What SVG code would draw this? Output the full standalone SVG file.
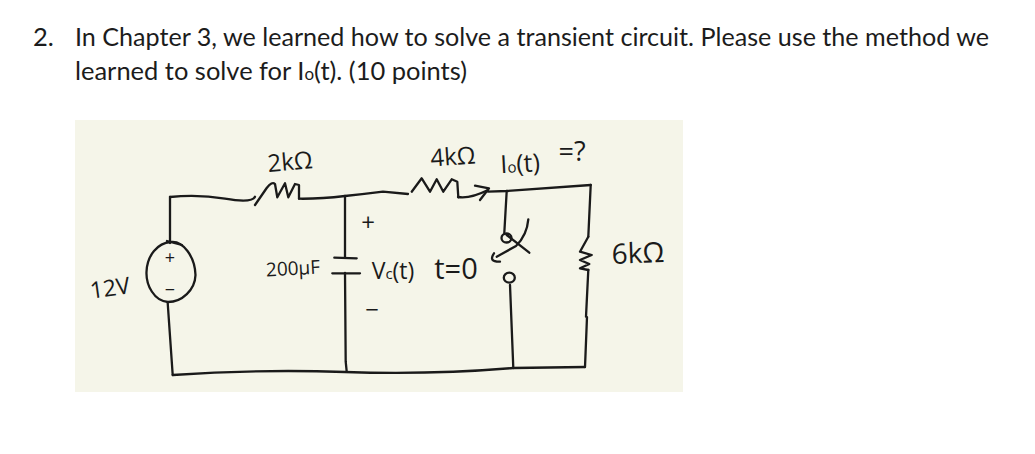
<svg xmlns="http://www.w3.org/2000/svg" width="1035" height="454" viewBox="0 0 1035 454">
<style>
.q{font-family:Lato,"Liberation Sans",sans-serif;font-size:25.5px;fill:#1c1c1c}
.w{fill:none;stroke:#1a1a1a;stroke-width:2.300;stroke-linecap:round;stroke-linejoin:round}
.h{font-family:"Open Sans","Liberation Sans",sans-serif;fill:#1a1a1a;text-anchor:middle;font-weight:400}
</style>
<rect width="1035" height="454" fill="#ffffff"/>
<text class="q" x="33" y="46">2.</text>
<text class="q" x="75" y="46" textLength="914" lengthAdjust="spacingAndGlyphs">In Chapter 3, we learned how to solve a transient circuit. Please use the method we</text>
<text class="q" x="75" y="80" textLength="392" lengthAdjust="spacingAndGlyphs">learned to solve for I<tspan font-size="17">o</tspan>(t). (10 points)</text>
<rect id="paper" x="75" y="120" width="608" height="272" fill="#f5f5e9"/>
<g id="connectors" class="w">
<path d="M170 197 Q198 194 225 198.700 T255 196.700"/>
<path d="M299 198.700 Q320 199 345 196"/>
<path d="M170 197 L170 243"/>
<path d="M167.700 303 L172.700 375"/>
<path d="M172.700 375 Q260 369 345 372 Q430 375 513 368 L585 367"/>
<path d="M345 196 Q365 194 383 191.700 L408 194"/>
<path d="M458 197 Q470 199 488 190"/>
<path d="M475 185.700 L489 188.300 L480 200"/>
<path d="M488 191.700 L506.700 191 L590.700 185"/>
<path d="M506.700 191 L504.300 233"/>
<path d="M510 285 L513.300 368"/>
<path d="M345 196.700 L345 257.700"/>
<path d="M345 273 L345.700 361.700 L346.700 371.700"/>
<path d="M590.700 185 L588.300 236.700"/>
<path d="M588.300 270 L586 316.700 L587 317 L585 367"/>
</g>
<g id="source">
<path class="w" d="M170.500 242 C183 240 195 257 195.500 275 C195 290 182 302 168 302 C154 301 146 285 146.500 272 C147 255 158 243 170.500 242 Z"/>
<path class="w" d="M167 241 Q174 243 182 245"/>
<text class="h" x="170" y="264" font-size="18">+</text>
<text class="h" x="170" y="296" font-size="18">−</text>
<text class="h" x="110" y="296" font-size="23" transform="rotate(-8 110 288)">12V</text>
</g>
<g id="r2k">
<path class="w" d="M255 205 L266.700 188 Q272 181 275 184 L277.300 197.300 L285 183.300 L288.300 197.300 L295 184 L299 185 L299 198.700"/>
<text class="h" x="290" y="170" font-size="24" transform="rotate(-5 290 161)">2kΩ</text>
</g>
<g id="r4k">
<path class="w" d="M411.700 191.700 L421.700 178.300 L430 191.700 L436.700 179.300 L443.300 191.700 L451.700 179.300 L457.300 181.700 L458.300 197.300"/>
<text class="h" x="453" y="165" font-size="24" transform="rotate(-4 453 157)">4kΩ</text>
</g>
<g id="capacitor">
<path class="w" d="M334.300 257.700 L356.700 258.300 M332.300 273.300 L360 273.300"/>
<text class="h" x="293" y="275" font-size="19" transform="rotate(-3 293 268)">200μF</text>
<text class="h" x="368" y="231" font-size="24">+</text>
<text class="h" x="393" y="279" font-size="23">V<tspan font-size="15">c</tspan>(t)</text>
<text class="h" x="372" y="318" font-size="24">−</text>
</g>
<g id="switch">
<ellipse class="w" cx="506.500" cy="238" rx="5" ry="4.500"/>
<path class="w" d="M528.300 219.300 Q527 235 516 246 L496.700 256.700 M506.700 235 L529.300 252.700 M494 253.300 Q488 262 500 261.700"/>
<ellipse class="w" cx="509.300" cy="277.700" rx="5.500" ry="5"/>
<text class="h" x="456" y="279" font-size="29">t=0</text>
</g>
<g id="r6k">
<path class="w" d="M588.300 236.700 L580 251.700 L591.700 255 L580 260 L589.300 264 L580 268.300 L588.300 270"/>
<text class="h" x="638" y="263" font-size="28" transform="rotate(-2 637 253)">6kΩ</text>
</g>
<g id="labels">
<text class="h" x="520" y="172" font-size="25" transform="rotate(-3 522 163)">I<tspan font-size="15">o</tspan>(t)</text>
<text class="h" x="572" y="161" font-size="27">=?</text>
</g>
</svg>
